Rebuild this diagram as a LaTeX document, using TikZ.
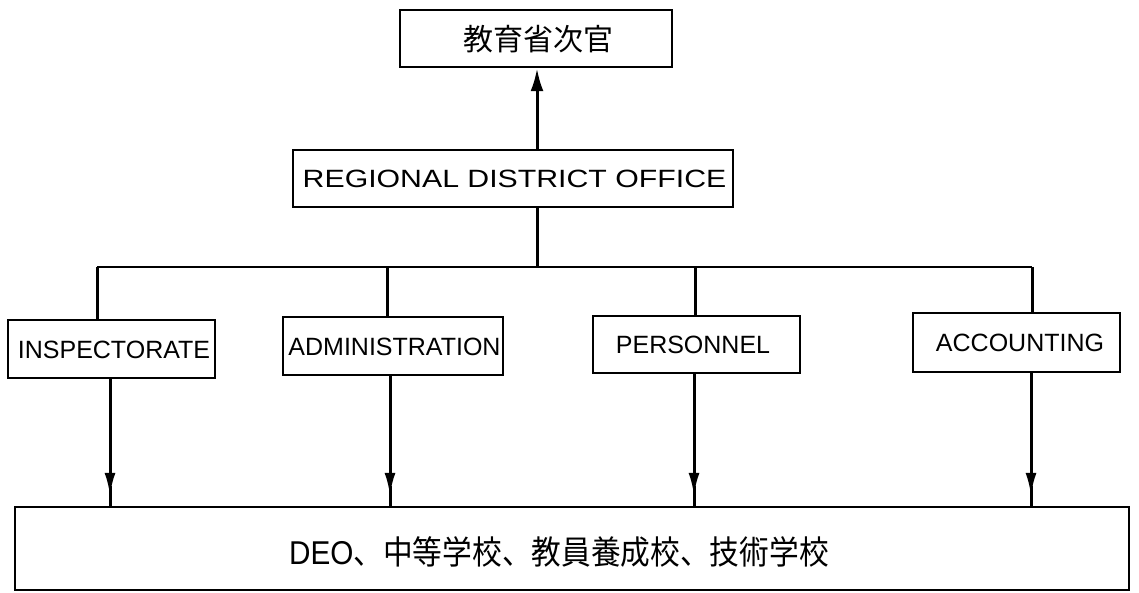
\documentclass[tikz,border=0pt]{standalone}
\usepackage{fontspec}
\usepackage{graphicx}
\setmainfont{Liberation Sans}
\newfontfamily\cjk{Noto Sans CJK JP}
\newfontfamily\latf{Liberation Sans}
\usetikzlibrary{arrows.meta,calc}
\tikzset{
  box/.style={draw, line width=2.5pt, rectangle, inner sep=0pt, minimum height=57pt},
  lbl/.style={font=\fontsize{25}{30}\selectfont, inner sep=0pt},
  conn/.style={line width=3pt},
  arr/.style={line width=3pt, -{Latex[length=23pt,width=11pt]}},
}
\begin{document}
\begin{tikzpicture}[x=1pt,y=1pt]
\useasboundingbox (0,0) rectangle (1139,-593);
% boxes
\node[box, minimum width=272pt] (top) at (536,-38.5) {};
\node[lbl, font=\cjk\fontsize{30}{34}\selectfont] (toplbl) at (538,-39) {教育省次官};
\node[box, minimum width=440pt] (rdo) at (513,-178.5) {};
\node[lbl] (rdolbl) at (514.5,-179) {\scalebox{1.21}[1]{REGIONAL DISTRICT OFFICE}};
\node[box, minimum width=207pt, minimum height=58pt] (insp) at (111.5,-349) {};
\node[lbl] (insplbl) at (114,-350) {INSPECTORATE};
\node[box, minimum width=220pt, minimum height=58pt] (adm) at (393,-346) {};
\node[lbl] (admlbl) at (394.5,-347) {ADMINISTRATION};
\node[box, minimum width=207pt] (pers) at (696.5,-344.5) {};
\node[lbl] (perslbl) at (693,-345) {PERSONNEL};
\node[box, minimum width=207pt, minimum height=59pt] (acc) at (1016.5,-342.5) {};
\node[lbl] (acclbl) at (1020,-343) {ACCOUNTING};
\node[box, minimum width=1114pt, minimum height=83pt] (bot) at (572,-548.5) {};
\node[lbl, font=\cjk\fontsize{33}{38}\selectfont] (botlbl) at (559,-552) {\scalebox{0.9}[1]{{\latf DEO}、中等学校、教員養成校、技術学校}};
% connector coordinates
\coordinate (spine) at (537,-267);
\coordinate (d1) at (97,-267);
\coordinate (d2) at (387,-267);
\coordinate (d3) at (695,-267);
\coordinate (d4) at (1032,-267);
\coordinate (a1) at (110,-267);
\coordinate (a2) at (390,-267);
\coordinate (a3) at (694,-267);
\coordinate (a4) at (1031,-267);
% top arrow
\draw[arr, -{Latex[length=23pt,width=13pt]}] (spine |- rdo.north) -- (spine |- top.south);
\draw[conn] (spine |- rdo.south) -- (spine);
% bar
\draw[line width=2.5pt] (d1) -- (d4);
\draw[conn] (d1) -- (d1 |- insp.north);
\draw[conn] (d2) -- (d2 |- adm.north);
\draw[conn] (d3) -- (d3 |- pers.north);
\draw[conn] (d4) -- (d4 |- acc.north);
% down arrows
\foreach \a/\n in {a1/insp,a2/adm,a3/pers,a4/acc}{
  \draw[arr] (\a |- \n.south) -- ($(\a |- bot.north)+(0,10)$);
  \draw[conn] ($(\a |- bot.north)+(0,20)$) -- (\a |- bot.north);
}
\end{tikzpicture}
\end{document}
